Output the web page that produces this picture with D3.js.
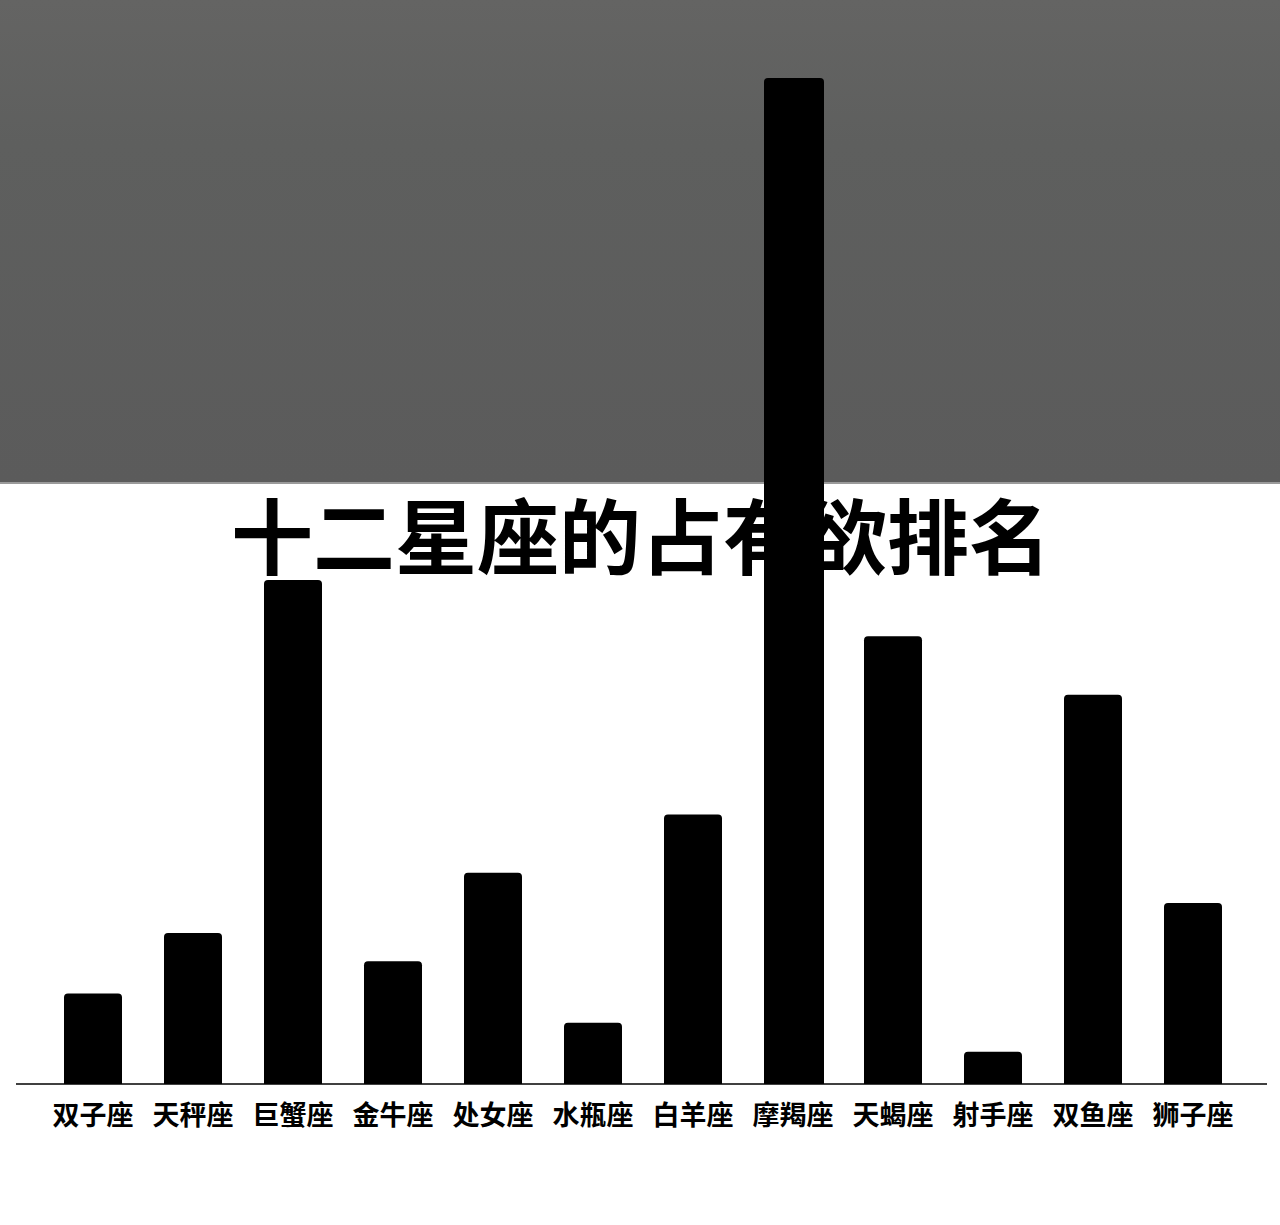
<!DOCTYPE html>
<html>
<head>
<meta charset="utf-8">
<script src="https://cdn.jsdelivr.net/npm/d3@7"></script>
<style>
  html, body { margin: 0; padding: 0; background: #fff; }
  svg { display: block; }
  .x.axis text { font-family: "Noto Sans CJK SC", sans-serif; font-weight: 700; }
</style>
</head>
<body>
<script>
// 十二星座的占有欲排名 (heights, capricorn = 100)
var signs = ["双子座", "天秤座", "巨蟹座", "金牛座", "处女座", "水瓶座",
             "白羊座", "摩羯座", "天蝎座", "射手座", "双鱼座", "狮子座"];
var possessiveness = [9.0, 15.0, 50.1, 12.2, 21.0, 6.1, 26.8, 100, 44.5, 3.2, 38.7, 18.0];
var title = "十二星座的占有欲排名";

var width = 1280;
var height = 1225;
var baseline = 1084;

var svg = d3.select("body").append("svg")
  .attr("width", width)
  .attr("height", height);

var defs = svg.append("defs");
var grad = defs.append("linearGradient")
  .attr("id", "grey")
  .attr("x1", 0).attr("y1", 0).attr("x2", 0).attr("y2", 1);
grad.append("stop").attr("offset", "0%").attr("stop-color", "#646463");
grad.append("stop").attr("offset", "30%").attr("stop-color", "#5e5f5e");
grad.append("stop").attr("offset", "100%").attr("stop-color", "#5b5b5b");

// grey photo band on top
svg.append("rect")
  .attr("x", 0).attr("y", 0)
  .attr("width", width).attr("height", 483)
  .attr("fill", "url(#grey)");
svg.append("rect")
  .attr("x", 0).attr("y", 482)
  .attr("width", width).attr("height", 2)
  .attr("fill", "#9a9a9a");

svg.append("text")
  .attr("x", 641)
  .attr("y", 532)
  .attr("text-anchor", "middle")
  .attr("dominant-baseline", "central")
  .style("font-family", "'Noto Sans CJK SC', sans-serif")
  .style("font-weight", 700)
  .style("font-size", "82px")
  .attr("fill", "#000")
  .text(title);

var xScale = d3.scaleBand()
  .domain(signs)
  .range([43, 1243])
  .paddingInner(0.42)
  .paddingOuter(0.21);

var yScale = d3.scaleLinear()
  .domain([0, 100])
  .range([baseline, 78]);

var xAxis = d3.axisBottom(xScale).tickSize(0).tickSizeOuter(0).tickPadding(18);

var gx = svg.append("g")
  .attr("class", "x axis")
  .attr("transform", "translate(0," + baseline + ")")
  .call(xAxis);
gx.select(".domain")
  .attr("d", "M16,0H1267")
  .attr("stroke", "#000")
  .attr("stroke-width", 1.6);
gx.selectAll(".tick text")
  .attr("font-size", 27)
  .attr("fill", "#000")
  .attr("dy", "0.85em");

svg.selectAll(".bar")
  .data(possessiveness)
  .enter()
  .append("path")
  .attr("class", "bar")
  .attr("fill", "#000")
  .attr("d", function(d, i) {
    var x0 = xScale(signs[i]);
    var w = xScale.bandwidth() + (signs[i] === "摩羯座" ? 2 : 0);
    var y0 = yScale(d);
    var r = 4;
    return "M" + x0 + "," + baseline +
      "V" + (y0 + r) +
      "Q" + x0 + "," + y0 + " " + (x0 + r) + "," + y0 +
      "H" + (x0 + w - r) +
      "Q" + (x0 + w) + "," + y0 + " " + (x0 + w) + "," + (y0 + r) +
      "V" + baseline + "Z";
  });
</script>
</body>
</html>
